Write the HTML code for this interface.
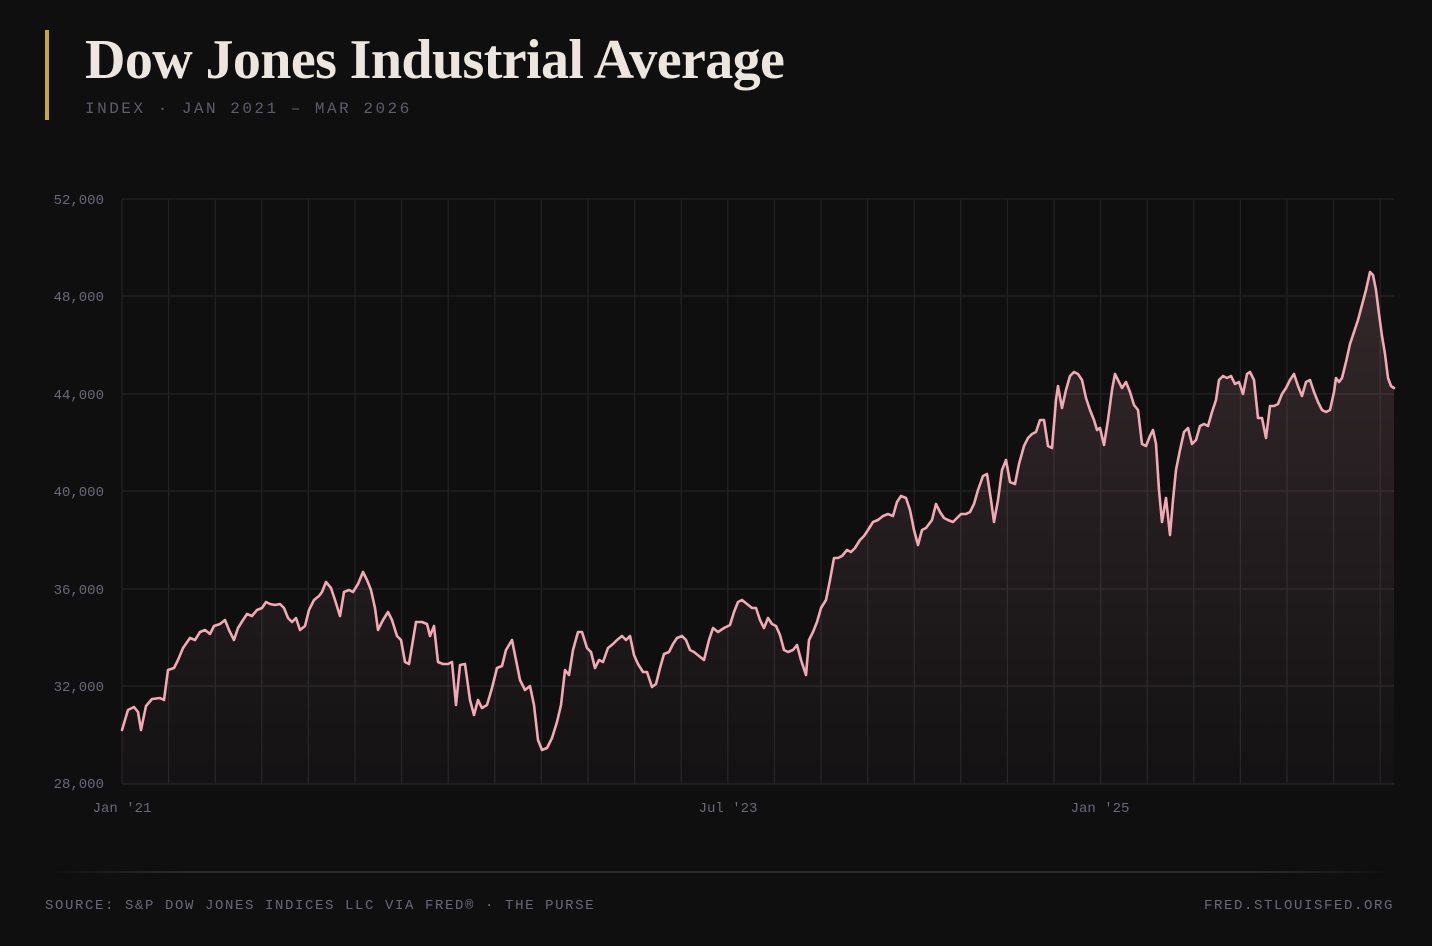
<!DOCTYPE html>
<html><head><meta charset="utf-8"><style>
html,body{margin:0;padding:0;background:#0f0f10;}
body{width:1432px;height:946px;position:relative;overflow:hidden;font-family:"Liberation Mono",monospace;}
.bar{position:absolute;left:45px;top:30px;width:4px;height:90px;background:#c9a640;}
h1{position:absolute;left:85px;top:28px;margin:0;font-family:"Liberation Serif",serif;font-weight:bold;font-size:56px;line-height:64px;color:#ece6df;letter-spacing:-0.6px;white-space:nowrap;}
.sub{position:absolute;left:85px;top:100px;font-size:16px;letter-spacing:2.5px;color:#5f5b6a;}
.foot{position:absolute;top:898px;font-size:14px;letter-spacing:1.6px;color:#6b6777;}
svg{position:absolute;left:0;top:0;}
</style></head><body>
<div class="bar"></div>
<h1>Dow Jones Industrial Average</h1>
<div class="sub">INDEX · JAN 2021 – MAR 2026</div>
<svg width="1432" height="946" viewBox="0 0 1432 946">
<defs>
<linearGradient id="fg" x1="0" y1="0" x2="0" y2="1"><stop offset="0" stop-color="#f2a9b4" stop-opacity="0.16"/><stop offset="1" stop-color="#f2a9b4" stop-opacity="0.02"/></linearGradient>
<linearGradient id="fl" x1="0" y1="0" x2="1" y2="0"><stop offset="0" stop-color="#2a2a2e" stop-opacity="0"/><stop offset="0.1" stop-color="#2a2a2e"/><stop offset="0.9" stop-color="#2a2a2e"/><stop offset="1" stop-color="#2a2a2e" stop-opacity="0"/></linearGradient>
</defs>
<g stroke="#232326" stroke-width="1.2" fill="none" id="grid"></g>
<g font-family="Liberation Mono, monospace" font-size="14" fill="#6b6777" text-anchor="end">
<text x="104" y="204">52,000</text><text x="104" y="301">48,000</text><text x="104" y="399">44,000</text><text x="104" y="496">40,000</text><text x="104" y="594">36,000</text><text x="104" y="691">32,000</text><text x="104" y="788">28,000</text>
</g>
<g font-family="Liberation Mono, monospace" font-size="14" fill="#6b6777" text-anchor="middle">
<text x="122" y="812">Jan '21</text><text x="728" y="812">Jul '23</text><text x="1100" y="812">Jan '25</text>
</g>
<path id="area" fill="url(#fg)" stroke="none"/>
<path id="line" fill="none" stroke="#f2a9b4" stroke-width="2.6" stroke-linejoin="round" stroke-linecap="round"/>
<rect x="45" y="871" width="1350" height="2" fill="url(#fl)"/>
</svg>
<div class="foot" style="left:45px">SOURCE: S&amp;P DOW JONES INDICES LLC VIA FRED® · THE PURSE</div>
<div class="foot" style="right:38px">FRED.STLOUISFED.ORG</div>
<script>
var g=document.getElementById('grid'),h='';
[199,296,394,491,589,686,784].forEach(function(y){h+='<line x1="122" x2="1394" y1="'+y+'" y2="'+y+'"/>';});
for(var i=0;i<28;i++){var x=122+i*46.6;h+='<line x1="'+x+'" x2="'+x+'" y1="199" y2="784"/>';}
g.innerHTML=h;
var p=[122,730,128,710,134,707,138,712,141,730,146,706,152,699,160,698,164,700,168,670,174,668,178,660,183,648,190,638,195,640,200,632,205,630,210,634,214,626,220,624,225,620,229,630,234,640,238,628,243,620,247,614,252,616,257,610,262,608,266,602,270,604,275,605,280,604,284,608,288,618,292,622,296,618,300,630,305,626,309,610,314,600,319,596,322,592,326,582,331,588,335,600,340,616,344,592,349,590,353,592,358,584,363,572,367,580,371,590,375,608,378,630,383,620,388,612,392,620,397,636,401,640,405,662,409,664,413,640,416,622,422,622,427,624,430,636,434,626,438,662,443,664,448,664,452,662,456,705,460,665,465,664,470,700,474,715,478,700,482,708,487,705,492,688,497,668,502,666,506,650,512,640,516,660,520,680,525,690,530,686,534,705,538,740,542,750,547,748,552,738,557,722,561,705,565,670,569,675,573,650,578,632,582,632,587,648,591,652,595,668,599,660,603,662,608,648,613,644,617,640,622,636,626,640,630,636,634,655,638,664,643,672,647,672,652,687,656,684,660,668,664,654,669,652,673,644,677,638,682,636,686,640,690,650,694,652,699,656,704,660,709,640,713,628,718,632,724,628,730,625,734,612,738,602,742,600,747,604,752,608,756,608,760,620,764,628,768,618,772,624,776,626,780,635,784,650,788,652,793,650,797,645,801,660,806,675,809,640,813,632,817,622,821,608,826,600,830,580,834,558,838,558,842,556,847,550,851,552,855,548,860,540,864,536,868,530,873,522,878,520,883,516,888,514,893,516,897,502,901,496,906,498,910,510,914,530,918,545,922,530,926,528,932,520,936,504,940,512,944,518,948,520,953,522,957,518,961,514,966,514,970,512,974,504,978,490,983,476,987,474,991,500,994,522,998,500,1002,470,1006,460,1010,482,1015,484,1019,464,1024,446,1028,438,1032,434,1036,432,1040,420,1044,420,1048,446,1052,448,1056,400,1058,386,1062,408,1066,390,1070,376,1074,372,1078,374,1082,380,1086,398,1090,410,1094,420,1097,430,1100,428,1104,445,1108,420,1112,390,1115,374,1118,380,1122,388,1126,382,1130,392,1134,405,1138,410,1142,444,1146,446,1150,436,1153,430,1156,444,1159,490,1162,522,1166,498,1170,535,1173,500,1176,470,1180,450,1184,432,1188,428,1192,444,1196,440,1200,426,1204,424,1208,426,1212,412,1216,400,1219,380,1223,376,1227,378,1231,376,1235,384,1239,382,1243,394,1247,374,1250,372,1254,380,1258,418,1262,418,1266,438,1270,406,1274,406,1278,404,1282,394,1286,388,1290,380,1294,374,1298,386,1302,396,1306,382,1310,380,1314,392,1318,402,1322,410,1326,412,1330,410,1334,392,1336,378,1339,382,1342,378,1346,362,1350,344,1354,332,1358,320,1362,305,1366,290,1370,272,1373,275,1376,290,1379,314,1382,336,1385,354,1388,378,1391,386,1394,388];
var d='M'+p[0]+','+p[1];for(var j=2;j<p.length;j+=2)d+=' L'+p[j]+','+p[j+1];
document.getElementById('line').setAttribute('d',d);
document.getElementById('area').setAttribute('d',d+' L1394,784 L122,784 Z');
</script>
</body></html>
